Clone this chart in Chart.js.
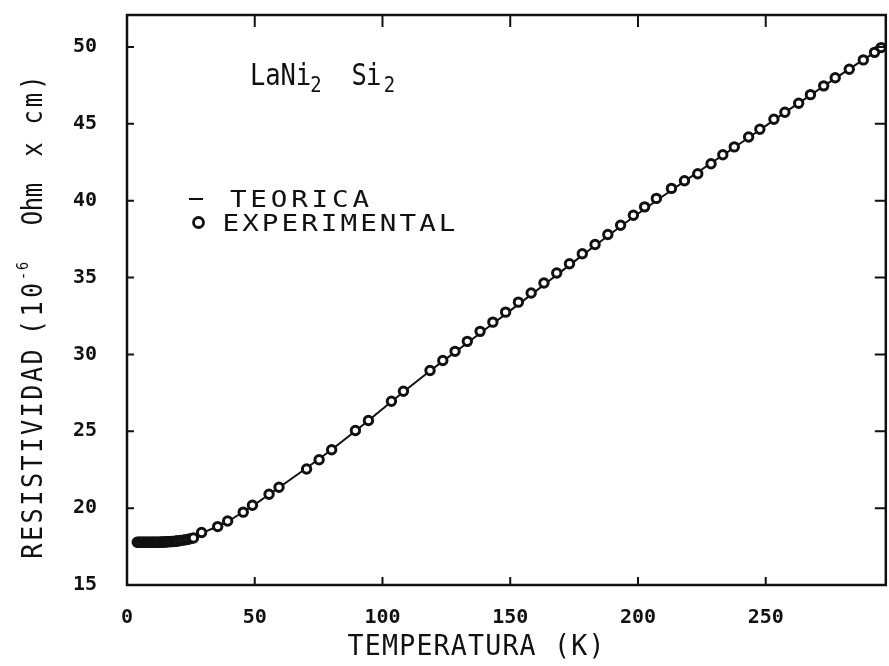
<!DOCTYPE html>
<html>
<head>
<meta charset="utf-8">
<title>Resistividad LaNi2Si2</title>
<script src="https://cdn.jsdelivr.net/npm/chart.js@4.4.1/dist/chart.umd.min.js"></script>
<style>
  html, body { margin: 0; padding: 0; background: #fff; overflow: hidden; }
  #grafico { display: block; }
</style>
</head>
<body>
<canvas id="grafico" width="893" height="666"></canvas>
<script>
// Puntos medidos: temperatura (K) y resistividad (10^-6 Ohm cm)
const tempExp = [4, 4.5, 5, 5.5, 6, 6.5, 7, 7.5, 8, 8.5, 9, 9.5, 10, 10.5, 11, 11.5, 12, 12.5, 13, 13.5,
  14, 14.5, 15, 15.5, 16, 16.5, 17, 17.5, 18, 18.5, 19, 19.5, 20, 21, 22, 23, 24, 25, 26,
  29.2, 35.5, 39.4, 45.5, 49.1, 55.6, 59.5, 70.3, 75.2, 80.1, 89.4, 94.5, 103.5, 108.2, 118.6, 123.6, 128.4,
  133.2, 138.2, 143.2, 148.2, 153.2, 158.2, 163.2, 168.2, 173.2, 178.2, 183.2, 188.2, 193.2, 198.2, 202.6,
  207.2, 213.1, 218.2, 223.4, 228.6, 233.2, 237.7, 243.3, 247.7, 253.2, 257.5, 262.9, 267.5, 272.7, 277.2,
  282.7, 288.2, 292.6, 295.2];
const resExp = [17.78, 17.78, 17.78, 17.78, 17.78, 17.78, 17.78, 17.78, 17.78, 17.78, 17.78, 17.78, 17.78,
  17.78, 17.78, 17.79, 17.79, 17.79, 17.79, 17.8, 17.8, 17.8, 17.8, 17.81, 17.81, 17.82, 17.82, 17.83, 17.83,
  17.84, 17.85, 17.86, 17.87, 17.89, 17.92, 17.95, 17.98, 18.02, 18.06,
  18.42, 18.8, 19.16, 19.74, 20.19, 20.9, 21.36, 22.55, 23.15, 23.8, 25.05, 25.7, 26.95, 27.6, 28.95, 29.6, 30.2,
  30.85, 31.5, 32.1, 32.75, 33.4, 34.0, 34.65, 35.3, 35.9, 36.55, 37.15, 37.8, 38.4, 39.05, 39.6,
  40.15, 40.8, 41.3, 41.75, 42.4, 42.99, 43.5, 44.14, 44.65, 45.3, 45.75, 46.34, 46.9, 47.47, 48.0,
  48.55, 49.16, 49.65, 49.96];

// Curva teorica
const tempTeo = [4, 8, 12, 16, 20, 24, 28, 32, 36, 40, 45, 50, 55, 60, 70, 80, 90, 100, 110, 120, 130, 140,
  150, 160, 170, 180, 190, 200, 210, 220, 230, 240, 250, 260, 270, 280, 290, 297];
const resTeo = [17.78, 17.78, 17.79, 17.81, 17.86, 17.96, 18.22, 18.57, 18.85, 19.2, 19.7, 20.24, 20.82, 21.4,
  22.58, 23.8, 25.1, 26.45, 27.8, 29.1, 30.35, 31.6, 32.85, 34.12, 35.4, 36.67, 37.93, 39.15, 40.32, 41.47,
  42.6, 43.72, 44.87, 46.02, 47.15, 48.27, 49.36, 50.12];

// Marcas y rango de los ejes
const ticksX = [0, 50, 100, 150, 200, 250];
const ticksY = [15, 20, 25, 30, 35, 40, 45, 50];
const rangoX = [0, 297];
const rangoY = [15, 52.08];

const NEGRO = '#111';
const MONO = '"DejaVu Sans Mono", "Liberation Mono", monospace';

// Escribe un texto letra por letra repartido entre x0 y x1 (estilo plotter)
function textoEspaciado(ctx, texto, x0, x1, y, sx) {
  const celda = (x1 - x0) / texto.length;
  for (let i = 0; i < texto.length; i++) {
    ctx.save();
    ctx.translate(x0 + celda * (i + 0.5), y);
    ctx.scale(sx, 1);
    ctx.fillText(texto[i], 0, 0);
    ctx.restore();
  }
}

// Marco cerrado, marcas hacia dentro, titulos y leyenda
const marco = {
  id: 'marco',
  afterDraw(chart) {
    const { ctx, chartArea: a, scales: { x, y } } = chart;
    ctx.save();
    ctx.strokeStyle = NEGRO;
    ctx.fillStyle = NEGRO;
    ctx.lineWidth = 2.5;
    ctx.strokeRect(a.left, a.top, a.right - a.left, a.bottom - a.top);

    ctx.lineWidth = 2;
    ctx.beginPath();
    x.ticks.forEach(t => {
      if (t.value === rangoX[0]) return;
      const px = x.getPixelForValue(t.value);
      ctx.moveTo(px, a.bottom); ctx.lineTo(px, a.bottom - 8);
      ctx.moveTo(px, a.top); ctx.lineTo(px, a.top + 12);
    });
    y.ticks.forEach(t => {
      if (t.value === rangoY[0]) return;
      const py = y.getPixelForValue(t.value);
      ctx.moveTo(a.left, py); ctx.lineTo(a.left + 7, py);
      ctx.moveTo(a.right, py); ctx.lineTo(a.right - 11, py);
    });
    ctx.stroke();

    ctx.textAlign = 'center';
    ctx.textBaseline = 'alphabetic';

    // titulo eje X
    ctx.font = '28px ' + MONO;
    textoEspaciado(ctx, 'TEMPERATURA (K)', 347, 605, 655, 0.95);

    // titulo eje Y (girado)
    ctx.save();
    ctx.translate(42, 0);
    ctx.rotate(-Math.PI / 2);
    ctx.font = '28px ' + MONO;
    textoEspaciado(ctx, 'RESISTIVIDAD', -560, -348, 0, 0.9);
    textoEspaciado(ctx, '(10', -337, -281, 0, 0.9);
    textoEspaciado(ctx, 'Ohm', -225, -183, 0, 0.85);
    textoEspaciado(ctx, 'x', -160, -139, 0, 0.85);
    textoEspaciado(ctx, 'cm)', -126, -74, 0, 0.85);
    ctx.font = '15px ' + MONO;
    textoEspaciado(ctx, '-6', -281, -261, -14, 0.9);
    ctx.restore();

    // compuesto
    ctx.font = '30px ' + MONO;
    textoEspaciado(ctx, 'LaNi', 250, 311, 85, 0.85);
    textoEspaciado(ctx, 'Si', 352, 381, 85, 0.85);
    ctx.font = '21px ' + MONO;
    textoEspaciado(ctx, '2', 309, 323, 92, 0.9);
    textoEspaciado(ctx, '2', 382, 397, 92, 0.9);

    // leyenda
    ctx.lineWidth = 2;
    ctx.beginPath();
    ctx.moveTo(189, 199); ctx.lineTo(203, 199);
    ctx.stroke();
    ctx.lineWidth = 2.8;
    ctx.beginPath();
    ctx.arc(198.5, 222.5, 5, 0, Math.PI * 2);
    ctx.stroke();
    ctx.font = '23px ' + MONO;
    textoEspaciado(ctx, 'TEORICA', 228, 371, 207, 1.2);
    textoEspaciado(ctx, 'EXPERIMENTAL', 221, 457, 231, 1.2);

    ctx.restore();
  }
};

new Chart(document.getElementById('grafico'), {
  type: 'scatter',
  data: {
    datasets: [
      {
        label: 'EXPERIMENTAL',
        data: tempExp.map((t, i) => ({ x: t, y: resExp[i] })),
        showLine: false,
        pointRadius: 4.2,
        pointBorderWidth: 3,
        pointBorderColor: NEGRO,
        pointBackgroundColor: '#fff',
        order: 0
      },
      {
        label: 'TEORICA',
        data: tempTeo.map((t, i) => ({ x: t, y: resTeo[i] })),
        showLine: true,
        pointRadius: 0,
        borderColor: NEGRO,
        borderWidth: 2,
        cubicInterpolationMode: 'monotone',
        order: 1
      }
    ]
  },
  options: {
    responsive: false,
    animation: false,
    devicePixelRatio: 1,
    layout: { padding: { top: 15, right: 2, left: 0, bottom: 0 } },
    plugins: { legend: { display: false }, tooltip: { enabled: false } },
    scales: {
      x: {
        type: 'linear',
        min: rangoX[0],
        max: rangoX[1],
        afterBuildTicks: s => { s.ticks = ticksX.map(v => ({ value: v })); },
        afterFit: s => { s.height = 81; s.paddingLeft = 0; s.paddingRight = 0; },
        grid: { display: false, drawTicks: false },
        border: { display: false },
        ticks: {
          color: NEGRO,
          padding: 21,
          maxRotation: 0,
          autoSkip: false,
          font: { family: MONO, size: 20, weight: 'bold' }
        }
      },
      y: {
        type: 'linear',
        min: rangoY[0],
        max: rangoY[1],
        afterBuildTicks: s => { s.ticks = ticksY.map(v => ({ value: v })); },
        afterFit: s => { s.width = 127; s.paddingTop = 0; s.paddingBottom = 0; },
        grid: { display: false, drawTicks: false },
        border: { display: false },
        ticks: {
          color: NEGRO,
          padding: 30,
          autoSkip: false,
          font: { family: MONO, size: 20, weight: 'bold' }
        }
      }
    }
  },
  plugins: [marco]
});
</script>
</body>
</html>
